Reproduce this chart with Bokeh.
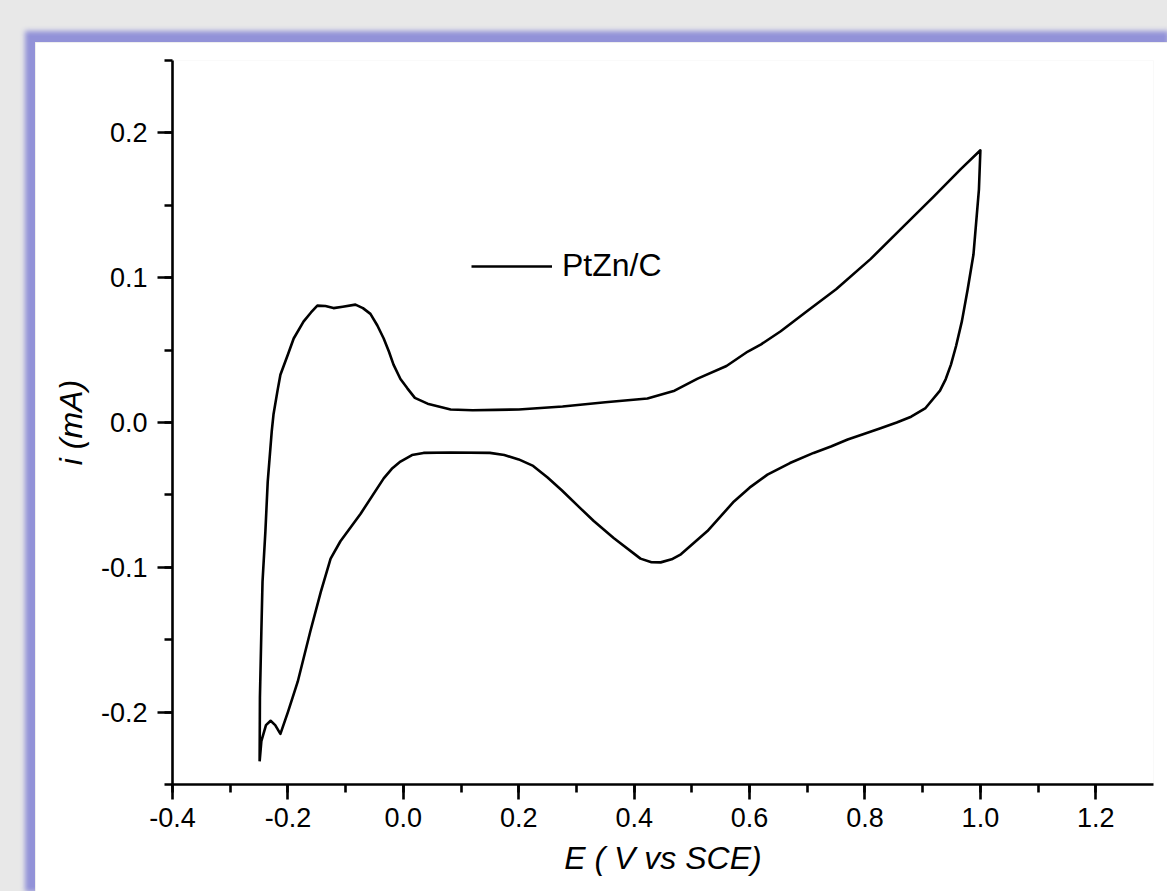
from bokeh.plotting import figure
from bokeh.layouts import column
from bokeh.models import Range1d, SingleIntervalTicker, NumeralTickFormatter, Legend, LegendItem
from bokeh.embed import file_html
from bokeh.resources import INLINE

# forward (anodic) scan
E_fwd = [-0.249, -0.2485, -0.246, -0.244, -0.239, -0.235, -0.228, -0.225, -0.218, -0.213,
         -0.200, -0.190, -0.173, -0.160, -0.149, -0.135, -0.121, -0.105, -0.083, -0.070,
         -0.057, -0.045, -0.034, -0.025, -0.017, -0.005, 0.007, 0.020, 0.042, 0.082, 0.120,
         0.160, 0.200, 0.276, 0.350, 0.423, 0.470, 0.510, 0.560, 0.597, 0.620, 0.654,
         0.700, 0.750, 0.810, 0.862, 0.919, 0.966, 1.000]
i_fwd = [-0.234, -0.190, -0.144, -0.110, -0.075, -0.041, -0.006, 0.0055, 0.022, 0.033,
         0.047, 0.058, 0.0697, 0.076, 0.0807, 0.0805, 0.079, 0.080, 0.0814, 0.079,
         0.075, 0.067, 0.058, 0.049, 0.040, 0.030, 0.0236, 0.017, 0.013, 0.009, 0.0085,
         0.0087, 0.009, 0.011, 0.014, 0.0166, 0.022, 0.0303, 0.039, 0.049, 0.054, 0.063,
         0.077, 0.092, 0.113, 0.1335, 0.156, 0.175, 0.188]
# reverse (cathodic) scan
E_rev = [1.000, 0.9975, 0.988, 0.978, 0.968, 0.958, 0.949, 0.940, 0.930, 0.905, 0.880, 0.855,
         0.827, 0.798, 0.770, 0.741, 0.711, 0.670, 0.631, 0.600, 0.573, 0.527, 0.481, 0.465,
         0.446, 0.430, 0.411, 0.365, 0.330, 0.307, 0.275, 0.250, 0.225, 0.200, 0.175, 0.150,
         0.082, 0.035, 0.015, -0.005, -0.020, -0.034, -0.074, -0.109, -0.126, -0.143, -0.161,
         -0.183, -0.200, -0.213, -0.222, -0.230, -0.238, -0.246, -0.249]
i_rev = [0.188, 0.161, 0.116, 0.092, 0.070, 0.053, 0.040, 0.030, 0.022, 0.010, 0.004, 0.000,
         -0.004, -0.008, -0.0117, -0.0166, -0.021, -0.028, -0.036, -0.045, -0.0545, -0.075, -0.091, -0.0945,
         -0.0966, -0.0965, -0.094, -0.080, -0.068, -0.0593, -0.047, -0.038, -0.030, -0.0255, -0.0225, -0.021,
         -0.0207, -0.021, -0.0225, -0.027, -0.032, -0.0386, -0.063, -0.082, -0.094, -0.117, -0.144,
         -0.179, -0.200, -0.215, -0.209, -0.206, -0.209, -0.220, -0.234]

series_label = "PtZn/C"
x_title = "E ( V vs SCE)"
y_title = "i (mA)"

FONT = "Liberation Sans"

p = figure(width=1132, height=849, output_backend="svg", toolbar_location=None,
           x_range=Range1d(-0.4, 1.3), y_range=Range1d(-0.25, 0.25),
           min_border_left=137, min_border_right=14, min_border_top=18, min_border_bottom=107)
p.border_fill_color = "white"
p.background_fill_color = "white"
p.outline_line_color = None
p.xgrid.visible = False
p.ygrid.visible = False

E_all = E_fwd + E_rev
i_all = i_fwd + i_rev
r = p.line(E_all, i_all, line_color="black", line_width=2.6, line_join="round")

for ax, ticker in ((p.xaxis[0], SingleIntervalTicker(interval=0.2, num_minor_ticks=2)),
                   (p.yaxis[0], SingleIntervalTicker(interval=0.1, num_minor_ticks=2))):
    ax.ticker = ticker
    ax.formatter = NumeralTickFormatter(format="0.0")
    ax.axis_line_width = 2.6
    ax.major_tick_line_width = 2.6
    ax.minor_tick_line_width = 2.6
    ax.major_tick_out = 15
    ax.major_tick_in = 0
    ax.minor_tick_out = 8
    ax.minor_tick_in = 0
    ax.major_label_text_font = FONT
    ax.major_label_text_font_size = "27px"
    ax.major_label_text_color = "black"
    ax.axis_label_text_font = FONT
    ax.axis_label_text_font_size = "32px"
    ax.axis_label_text_font_style = "italic"
    ax.axis_label_text_color = "black"

p.xaxis[0].axis_label = x_title
p.yaxis[0].axis_label = y_title
p.xaxis[0].major_label_standoff = 8
p.yaxis[0].major_label_standoff = 10
p.xaxis[0].axis_label_standoff = 10
p.yaxis[0].axis_label_standoff = 9

legend = Legend(items=[LegendItem(label=series_label, renderers=[r])],
                location=(299, 500), glyph_width=81, glyph_height=30,
                label_standoff=10, padding=0, margin=0, spacing=0,
                border_line_color=None, background_fill_alpha=0,
                label_text_font=FONT, label_text_font_size="32px",
                label_text_color="black")
p.add_layout(legend, "center")

p.styles = {"box-shadow": "-4px -5px 5px 6px #9292d8"}

page = column(p, width=1167, height=891,
              styles={"background-color": "#e8e8e8", "padding-left": "35px",
                      "padding-top": "42px", "box-sizing": "border-box",
                      "overflow": "hidden"})

open("out.html", "w").write(file_html(page, INLINE))
